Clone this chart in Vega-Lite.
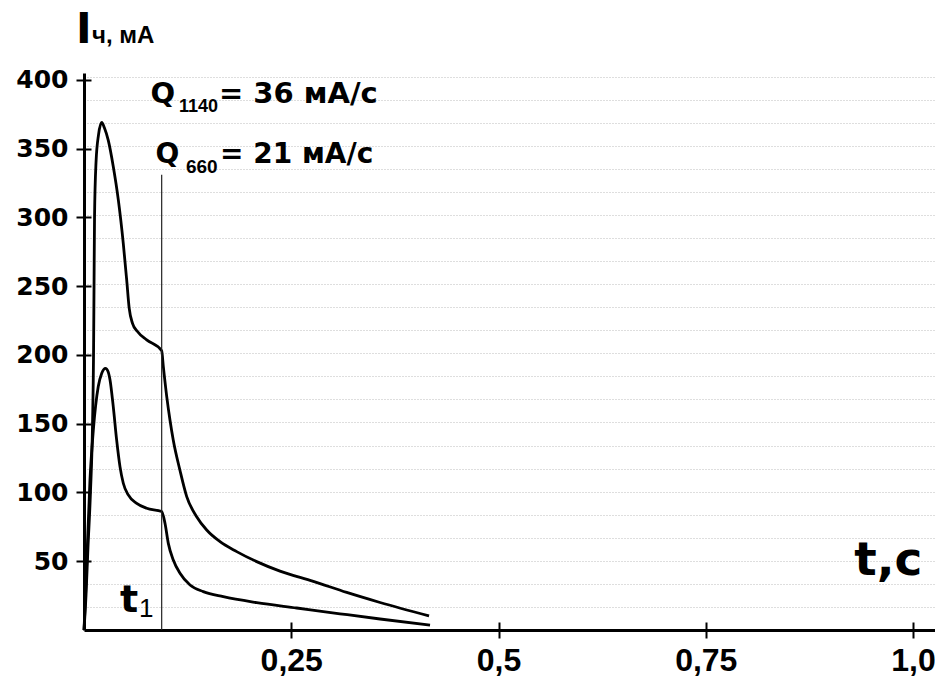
{
  "$schema": "https://vega.github.io/schema/vega-lite/v6.json",
  "autosize": {"type": "none"},
  "padding": {"left": 84, "top": 73, "right": 0, "bottom": 54},
  "width": 851,
  "height": 557,
  "background": "white",
  "config": {
    "view": {"stroke": null},
    "axis": {"domainColor": "black", "tickColor": "black", "labelColor": "black", "title": null}
  },
  "data": {"values": [{"one": 1}]},
  "datasets": {
    "curves": [
      {"s": "1140", "t": 0, "I": 0},
      {"s": "1140", "t": 0.0024, "I": 25},
      {"s": "1140", "t": 0.0048, "I": 60},
      {"s": "1140", "t": 0.0078, "I": 100},
      {"s": "1140", "t": 0.0103, "I": 150},
      {"s": "1140", "t": 0.0115, "I": 200},
      {"s": "1140", "t": 0.0121, "I": 250},
      {"s": "1140", "t": 0.0127, "I": 300},
      {"s": "1140", "t": 0.0145, "I": 340},
      {"s": "1140", "t": 0.0175, "I": 360},
      {"s": "1140", "t": 0.0214, "I": 369},
      {"s": "1140", "t": 0.0247, "I": 365},
      {"s": "1140", "t": 0.0293, "I": 356},
      {"s": "1140", "t": 0.0353, "I": 337},
      {"s": "1140", "t": 0.0414, "I": 312.7},
      {"s": "1140", "t": 0.0474, "I": 281},
      {"s": "1140", "t": 0.0515, "I": 254.5},
      {"s": "1140", "t": 0.0545, "I": 234},
      {"s": "1140", "t": 0.0585, "I": 223},
      {"s": "1140", "t": 0.0645, "I": 217},
      {"s": "1140", "t": 0.0756, "I": 210.9},
      {"s": "1140", "t": 0.0937, "I": 203},
      {"s": "1140", "t": 0.0957, "I": 191.5},
      {"s": "1140", "t": 0.0998, "I": 169.7},
      {"s": "1140", "t": 0.1037, "I": 152.7},
      {"s": "1140", "t": 0.1077, "I": 138},
      {"s": "1140", "t": 0.1158, "I": 116},
      {"s": "1140", "t": 0.1239, "I": 97},
      {"s": "1140", "t": 0.1359, "I": 82.4},
      {"s": "1140", "t": 0.148, "I": 72.7},
      {"s": "1140", "t": 0.1641, "I": 64.2},
      {"s": "1140", "t": 0.1842, "I": 57},
      {"s": "1140", "t": 0.2083, "I": 49.7},
      {"s": "1140", "t": 0.2364, "I": 42.8},
      {"s": "1140", "t": 0.2766, "I": 35.4},
      {"s": "1140", "t": 0.3169, "I": 27.3},
      {"s": "1140", "t": 0.3571, "I": 20},
      {"s": "1140", "t": 0.4162, "I": 10.2},
      {"s": "660", "t": 0, "I": 0},
      {"s": "660", "t": 0.0018, "I": 24},
      {"s": "660", "t": 0.0033, "I": 48.5},
      {"s": "660", "t": 0.0072, "I": 109},
      {"s": "660", "t": 0.0112, "I": 145},
      {"s": "660", "t": 0.0172, "I": 177},
      {"s": "660", "t": 0.0214, "I": 186.7},
      {"s": "660", "t": 0.0259, "I": 190.3},
      {"s": "660", "t": 0.029, "I": 188},
      {"s": "660", "t": 0.0314, "I": 181.8},
      {"s": "660", "t": 0.0353, "I": 162.4},
      {"s": "660", "t": 0.0394, "I": 138},
      {"s": "660", "t": 0.0434, "I": 118.8},
      {"s": "660", "t": 0.0474, "I": 106.7},
      {"s": "660", "t": 0.0534, "I": 98.2},
      {"s": "660", "t": 0.0636, "I": 92.1},
      {"s": "660", "t": 0.0756, "I": 88.5},
      {"s": "660", "t": 0.0937, "I": 86.1},
      {"s": "660", "t": 0.0977, "I": 77.6},
      {"s": "660", "t": 0.1017, "I": 63},
      {"s": "660", "t": 0.1077, "I": 50.9},
      {"s": "660", "t": 0.1158, "I": 41.2},
      {"s": "660", "t": 0.1279, "I": 32.7},
      {"s": "660", "t": 0.1439, "I": 27.9},
      {"s": "660", "t": 0.168, "I": 24.2},
      {"s": "660", "t": 0.2083, "I": 19.9},
      {"s": "660", "t": 0.2566, "I": 16},
      {"s": "660", "t": 0.3088, "I": 11.8},
      {"s": "660", "t": 0.3571, "I": 8},
      {"s": "660", "t": 0.4174, "I": 3.6}
    ]
  },
  "resolve": {"axis": {"x": "independent", "y": "independent"}},
  "layer": [
    {
      "data": {"name": "curves"},
      "mark": {"type": "line", "color": "black", "strokeWidth": 2.8, "interpolate": "monotone"},
      "encoding": {
        "x": {
          "field": "t", "type": "quantitative",
          "scale": {"domain": [0, 1.0265], "nice": false, "zero": false},
          "axis": {
            "orient": "bottom", "values": [0.25, 0.5, 0.75, 1],
            "domainWidth": 3, "tickWidth": 2, "tickSize": 8,
            "labelFont": "Liberation Sans", "labelFontWeight": "bold", "labelFontSize": 32,
            "labelPadding": 7, "grid": false,
            "labelExpr": "datum.value == 1 ? '1,0' : replace(format(datum.value, ''), '.', ',')"
          }
        },
        "y": {
          "field": "I", "type": "quantitative",
          "scale": {"domain": [0, 405], "nice": false, "zero": false},
          "axis": {
            "orient": "left", "values": [50, 100, 150, 200, 250, 300, 350, 400],
            "domainWidth": 3, "tickWidth": 2, "tickSize": 8,
            "labelFont": "DejaVu Sans", "labelFontWeight": "bold", "labelFontSize": 25,
            "labelPadding": 8, "grid": false
          }
        },
        "detail": {"field": "s", "type": "nominal"}
      }
    },
    {
      "mark": {"type": "rule", "color": "#222222", "strokeWidth": 1.2},
      "encoding": {
        "x": {
          "datum": 0.0937, "type": "quantitative",
          "axis": {
            "orient": "top", "offset": -557, "values": [0.25, 0.5, 0.75, 1],
            "tickSize": 8, "tickWidth": 2, "labels": false, "domain": false, "grid": false
          }
        },
        "y": {
          "datum": 0, "type": "quantitative",
          "axis": {
            "orient": "right", "offset": -851, "values": [50, 100, 150, 200, 250, 300, 350, 400],
            "tickSize": 7, "tickWidth": 2, "labels": false, "domain": false, "grid": false
          }
        },
        "y2": {"datum": 331}
      }
    },
    {
      "mark": {"type": "text", "text": "t,c", "align": "left", "baseline": "alphabetic", "font": "DejaVu Sans", "fontWeight": "bold", "fontSize": 47, "color": "black"},
      "encoding": {
        "x": {"datum": 0.929, "type": "quantitative", "axis": null},
        "y": {
          "datum": 40, "type": "quantitative",
          "axis": {
            "orient": "left", "values": [17.0, 33.7, 50.4, 67.2, 83.9, 100.6, 117.4, 134.1, 150.9, 167.6, 184.4, 201.1, 217.8, 234.6, 251.3, 268.1, 284.8, 301.5, 318.3, 335.0, 351.7, 368.5, 385.2, 401.9],
            "grid": true, "gridDash": [1, 2], "gridColor": "#bdbdbd", "gridWidth": 1,
            "labels": false, "ticks": false, "domain": false
          }
        }
      }
    },
    {
      "mark": {"type": "text", "text": "t", "align": "left", "baseline": "alphabetic", "font": "DejaVu Sans", "fontWeight": "bold", "fontSize": 38, "color": "black"},
      "encoding": {
        "x": {"datum": 0.0434, "type": "quantitative", "axis": null},
        "y": {"datum": 13.1, "type": "quantitative", "axis": null}
      }
    },
    {
      "mark": {"type": "text", "text": "1", "align": "left", "baseline": "alphabetic", "font": "Liberation Sans", "fontSize": 26, "color": "black"},
      "encoding": {
        "x": {"datum": 0.0663, "type": "quantitative", "axis": null},
        "y": {"datum": 9.5, "type": "quantitative", "axis": null}
      }
    },
    {
      "mark": {"type": "text", "text": "I", "align": "left", "baseline": "alphabetic", "font": "DejaVu Sans", "fontWeight": "bold", "fontSize": 42, "color": "black"},
      "encoding": {
        "x": {"datum": -0.00965, "type": "quantitative", "axis": null},
        "y": {"datum": 426.9, "type": "quantitative", "axis": null}
      }
    },
    {
      "mark": {"type": "text", "text": "ч, мА", "align": "left", "baseline": "alphabetic", "font": "Liberation Sans", "fontWeight": "bold", "fontSize": 24, "color": "black"},
      "encoding": {
        "x": {"datum": 0.0097, "type": "quantitative", "axis": null},
        "y": {"datum": 426.9, "type": "quantitative", "axis": null}
      }
    },
    {
      "mark": {"type": "text", "text": "Q", "align": "left", "baseline": "alphabetic", "font": "DejaVu Sans", "fontWeight": "bold", "fontSize": 29, "color": "black"},
      "encoding": {
        "x": {"datum": 0.0802, "type": "quantitative", "axis": null},
        "y": {"datum": 383.3, "type": "quantitative", "axis": null}
      }
    },
    {
      "mark": {"type": "text", "text": "1140", "align": "left", "baseline": "alphabetic", "font": "Liberation Sans", "fontWeight": "bold", "fontSize": 18, "color": "black"},
      "encoding": {
        "x": {"datum": 0.1146, "type": "quantitative", "axis": null},
        "y": {"datum": 376.7, "type": "quantitative", "axis": null}
      }
    },
    {
      "mark": {"type": "text", "text": "= 36 мА/с", "align": "left", "baseline": "alphabetic", "font": "DejaVu Sans", "fontWeight": "bold", "fontSize": 29, "color": "black"},
      "encoding": {
        "x": {"datum": 0.1628, "type": "quantitative", "axis": null},
        "y": {"datum": 383.3, "type": "quantitative", "axis": null}
      }
    },
    {
      "mark": {"type": "text", "text": "Q", "align": "left", "baseline": "alphabetic", "font": "DejaVu Sans", "fontWeight": "bold", "fontSize": 28, "color": "black"},
      "encoding": {
        "x": {"datum": 0.0862, "type": "quantitative", "axis": null},
        "y": {"datum": 339.6, "type": "quantitative", "axis": null}
      }
    },
    {
      "mark": {"type": "text", "text": "660", "align": "left", "baseline": "alphabetic", "font": "Liberation Sans", "fontWeight": "bold", "fontSize": 19, "color": "black"},
      "encoding": {
        "x": {"datum": 0.123, "type": "quantitative", "axis": null},
        "y": {"datum": 332.4, "type": "quantitative", "axis": null}
      }
    },
    {
      "mark": {"type": "text", "text": "= 21 мА/с", "align": "left", "baseline": "alphabetic", "font": "DejaVu Sans", "fontWeight": "bold", "fontSize": 28, "color": "black"},
      "encoding": {
        "x": {"datum": 0.1641, "type": "quantitative", "axis": null},
        "y": {"datum": 339.6, "type": "quantitative", "axis": null}
      }
    }
  ]
}
